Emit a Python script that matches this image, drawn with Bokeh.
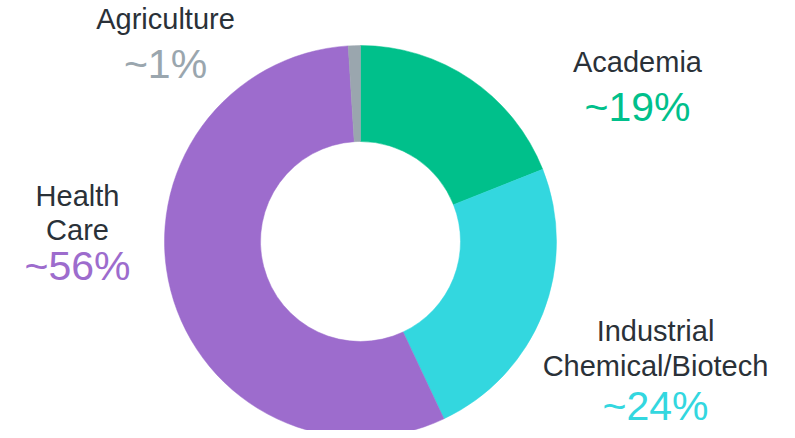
import math
from bokeh.plotting import figure
from bokeh.models import Range1d, ColumnDataSource
from bokeh.core.properties import value
from bokeh.embed import file_html
from bokeh.resources import INLINE

# Data
sectors = ["Academia", "Industrial Chemical/Biotech", "Health Care", "Agriculture"]
shares = [19, 24, 56, 1]
share_labels = ["~19%", "~24%", "~56%", "~1%"]
colors = ["#00C08B", "#33D7DF", "#9D6CCD", "#9AA6AE"]
pct_colors = ["#00C08B", "#33D7DF", "#9D6CCD", "#9AA6AE"]

# Layout (pixel coordinates; y measured from top)
W, H = 787, 430
cx, cy = 360, 241
r_out, r_in = 196, 100
LABEL_SHIFT = 12   # rendering offset correction for name lines
PCT_SHIFT = 15     # rendering offset correction for percent lines

def Y(sy):
    return H - sy

p = figure(width=W, height=H, output_backend="svg", toolbar_location=None,
           x_range=Range1d(0, W), y_range=Range1d(0, H),
           min_border=0, background_fill_color="white", border_fill_color="white")
p.axis.visible = False
p.grid.visible = False
p.outline_line_color = None

total = sum(shares)
starts, ends = [], []
cum = 0.0
for s in shares:
    starts.append(math.pi / 2 - 2 * math.pi * cum / total)
    cum += s
    ends.append(math.pi / 2 - 2 * math.pi * cum / total)

src = ColumnDataSource(dict(x=[cx] * len(shares), y=[Y(cy)] * len(shares),
                            start=starts, end=ends, color=colors))
p.annular_wedge(x="x", y="y", inner_radius=r_in, outer_radius=r_out,
                start_angle="start", end_angle="end", direction="clock",
                fill_color="color", line_color="color", line_width=0.5, source=src)

# label positions: (center x, baselines of name lines, baseline of percent)
label_pos = {
    "Academia": (637, [73], 121),
    "Industrial Chemical/Biotech": (655, [342, 377], 420),
    "Health Care": (77, [207, 241], 280),
    "Agriculture": (165, [30], 78),
}
name_lines = {
    "Academia": ["Academia"],
    "Industrial Chemical/Biotech": ["Industrial", "Chemical/Biotech"],
    "Health Care": ["Health", "Care"],
    "Agriculture": ["Agriculture"],
}

font = value("Liberation Sans")
for i, sec in enumerate(sectors):
    x0, baselines, pb = label_pos[sec]
    for line, b in zip(name_lines[sec], baselines):
        p.text(x=[x0], y=[Y(b - LABEL_SHIFT)], text=[line], text_font=font,
               text_font_size="29px", text_color="#2A3138",
               text_align="center", text_baseline="alphabetic")
    p.text(x=[x0], y=[Y(pb - PCT_SHIFT)], text=[share_labels[i]], text_font=font,
           text_font_size="41px", text_color=pct_colors[i],
           text_align="center", text_baseline="alphabetic")

open("out.html", "w").write(file_html(p, INLINE))
